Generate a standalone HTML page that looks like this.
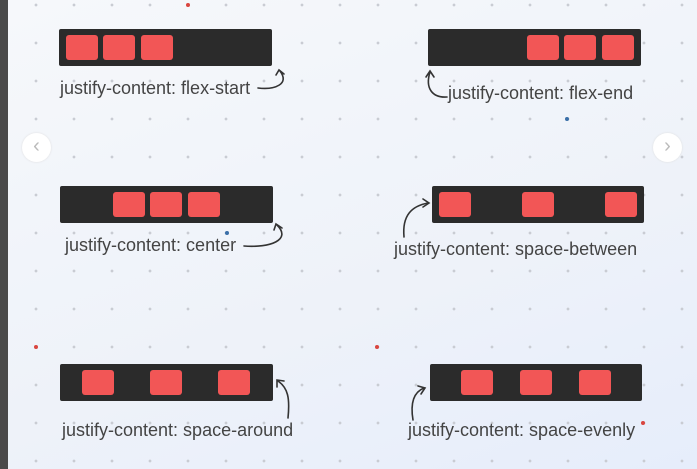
<!DOCTYPE html>
<html><head><style>
body{margin:0;width:697px;height:469px;overflow:hidden;font-family:"Liberation Sans",sans-serif;}
.bg{position:absolute;left:0;top:0;width:697px;height:469px;background:linear-gradient(160deg,#f6f8fb 0%,#eef2f9 60%,#e6edfb 100%);}
.strip{position:absolute;left:0;top:0;width:8px;height:469px;background:#4a4a4a;}
.dots{position:absolute;left:0;top:0;width:697px;height:469px;background-image:radial-gradient(circle,#c9ccd3 1.2px,transparent 1.6px);background-size:38px 38px;background-position:17px -14px;}
.bar{position:absolute;height:37px;background:#2b2b2b;border-radius:2px;}
.sq{position:absolute;width:32px;height:25px;background:#f25656;border-radius:3px;}
.lbl{position:absolute;font-size:18px;color:#444;white-space:nowrap;}
.nav{position:absolute;width:29px;height:29px;border-radius:50%;background:#fff;color:#bbb;font-size:20px;text-align:center;line-height:27px;box-shadow:0 0 2px #ddd;}
.rd{position:absolute;width:4px;height:4px;border-radius:50%;background:#d9453f;}
</style></head><body>
<div class="bg"></div><div class="dots"></div><div class="strip"></div>
<div class="rd" style="left:186px;top:3px"></div>
<div class="rd" style="left:34px;top:345px"></div>
<div class="rd" style="left:375px;top:345px"></div>
<div class="rd" style="left:641px;top:421px"></div>
<div class="rd" style="left:565px;top:117px;background:#3a6fa8"></div>
<div class="rd" style="left:225px;top:231px;background:#3a6fa8"></div>

<div class="bar" style="left:59px;top:29px;width:213px"></div>
<div class="sq" style="left:66px;top:35px"></div><div class="sq" style="left:103px;top:35px"></div><div class="sq" style="left:141px;top:35px"></div>
<div class="bar" style="left:428px;top:29px;width:213px"></div>
<div class="sq" style="left:527px;top:35px"></div><div class="sq" style="left:564px;top:35px"></div><div class="sq" style="left:602px;top:35px"></div>
<div class="bar" style="left:60px;top:186px;width:213px"></div>
<div class="sq" style="left:113px;top:192px"></div><div class="sq" style="left:150px;top:192px"></div><div class="sq" style="left:188px;top:192px"></div>
<div class="bar" style="left:432px;top:186px;width:212px"></div>
<div class="sq" style="left:439px;top:192px"></div><div class="sq" style="left:522px;top:192px"></div><div class="sq" style="left:605px;top:192px"></div>
<div class="bar" style="left:60px;top:364px;width:213px"></div>
<div class="sq" style="left:82px;top:370px"></div><div class="sq" style="left:150px;top:370px"></div><div class="sq" style="left:218px;top:370px"></div>
<div class="bar" style="left:430px;top:364px;width:212px"></div>
<div class="sq" style="left:461px;top:370px"></div><div class="sq" style="left:520px;top:370px"></div><div class="sq" style="left:579px;top:370px"></div>

<div class="lbl" style="left:60px;top:78px">justify-content: flex-start</div>
<div class="lbl" style="left:448px;top:83px">justify-content: flex-end</div>
<div class="lbl" style="left:65px;top:235px">justify-content: center</div>
<div class="lbl" style="left:394px;top:239px">justify-content: space-between</div>
<div class="lbl" style="left:62px;top:420px">justify-content: space-around</div>
<div class="lbl" style="left:408px;top:420px">justify-content: space-evenly</div>

<svg width="697" height="469" style="position:absolute;left:0;top:0" fill="none" stroke="#333" stroke-width="1.6" stroke-linecap="round">
<path d="M258 88 C275 90 290 84 280 71"/><path d="M276 75 L279 70 L284 74"/>
<path d="M447 97 C432 98 425 88 430 72"/><path d="M426 77 L430 71 L434 77"/>
<path d="M244 246 C270 248 292 240 277 225"/><path d="M274 230 L276 224 L282 228"/>
<path d="M404 237 C402 215 412 206 428 203"/><path d="M423 199 L429 203 L423 207"/>
<path d="M288 418 C290 398 288 388 278 381"/><path d="M277 387 L277 380 L284 381"/>
<path d="M413 420 C410 402 414 392 424 388"/><path d="M418 386 L425 388 L421 394"/>
</svg>
<div class="nav" style="left:22px;top:133px">‹</div>
<div class="nav" style="left:653px;top:133px">›</div>
</body></html>
